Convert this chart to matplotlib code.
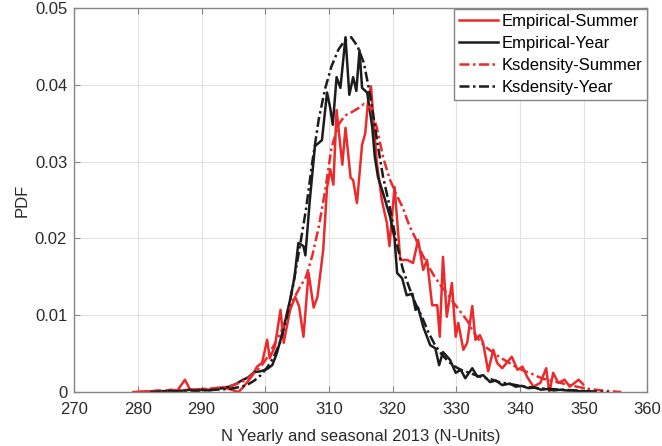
import matplotlib
matplotlib.use('Agg')
import matplotlib.pyplot as plt

plt.rcParams['font.family'] = ['Liberation Sans', 'DejaVu Sans']

# empirical pdf, summer
emp_summer_x = [280.1, 281.1, 282.1, 283.1, 284.2, 285.2, 286.2, 287.4, 288.2, 289.2, 290.2, 291.2,
                292.2, 293.3, 294.3, 295.8, 296.5, 297.2, 298.0, 298.7, 299.5, 300.3, 300.7, 301.5,
                302.4, 302.9, 303.9, 304.7, 305.3, 306.0, 306.8, 307.6, 308.2, 309.1, 309.7, 310.2,
                310.7, 311.2, 312.1, 312.6, 313.4, 313.8, 314.4, 315.2, 315.7, 316.2, 316.6, 317.5,
                318.3, 319.1, 319.5, 320.3, 321.2, 322.3, 323.2, 324.0, 324.8, 325.4, 326.2, 327.0,
                327.4, 327.9, 328.5, 329.3, 329.9, 330.3, 331.1, 331.7, 332.5, 333.0, 333.7, 334.2,
                335.0, 335.8, 336.4, 337.2, 337.6, 338.7, 339.6, 340.4, 341.1, 342.1, 343.2, 344.1,
                344.6, 345.2, 346.0, 347.0, 347.8, 349.2, 349.9]
emp_summer_y = [0.0000, 0.0001, 0.0001, 0.0002, 0.0001, 0.0003, 0.0002, 0.0016, 0.0003, 0.0002,
                0.0004, 0.0003, 0.0005, 0.0006, 0.0004, 0.0000, 0.0006, 0.0013, 0.0022, 0.0033,
                0.0038, 0.0068, 0.0044, 0.0059, 0.0107, 0.0064, 0.0107, 0.0124, 0.0112, 0.0072,
                0.0155, 0.0110, 0.0124, 0.0185, 0.0266, 0.0290, 0.0270, 0.0367, 0.0296, 0.0344,
                0.0279, 0.0276, 0.0246, 0.0322, 0.0337, 0.0384, 0.0398, 0.0300, 0.0250, 0.0220,
                0.0190, 0.0267, 0.0172, 0.0172, 0.0168, 0.0198, 0.0159, 0.0172, 0.0113, 0.0113,
                0.0072, 0.0176, 0.0098, 0.0142, 0.0072, 0.0090, 0.0055, 0.0064, 0.0112, 0.0068,
                0.0074, 0.0064, 0.0027, 0.0055, 0.0038, 0.0031, 0.0035, 0.0046, 0.0029, 0.0033,
                0.0020, 0.0007, 0.0012, 0.0031, -0.0001, 0.0025, 0.0012, 0.0016, 0.0007, 0.0016,
                0.0010]

# empirical pdf, whole year
emp_year_x = [282.1, 283.1, 284.2, 285.2, 286.2, 287.2, 288.2, 289.2, 290.2, 291.2, 292.2, 293.3,
              294.3, 295.3, 296.3, 297.3, 298.3, 299.3, 300.3, 301.1, 301.8, 302.4, 303.2, 303.9,
              304.6, 305.2, 306.0, 306.3, 307.0, 307.8, 308.9, 309.7, 310.2, 310.6, 311.2, 311.8,
              312.6, 313.2, 313.8, 314.3, 314.8, 315.2, 316.0, 316.8, 317.2, 317.7, 318.5, 319.6,
              320.3, 320.7, 321.5, 322.2, 323.1, 323.6, 324.0, 324.8, 325.9, 326.7, 327.3, 327.9,
              329.0, 329.9, 330.7, 331.4, 332.5, 333.3, 334.2, 335.3, 336.2, 337.2, 338.4, 339.3,
              340.3, 341.3, 342.3, 343.3, 344.3, 345.3, 346.3, 347.3, 348.3, 349.4, 350.9]
emp_year_y = [0.0000, 0.0001, 0.0001, 0.0002, 0.0001, 0.0002, 0.0003, 0.0002, 0.0003, 0.0002,
              0.0004, 0.0005, 0.0007, 0.0010, 0.0015, 0.0019, 0.0026, 0.0027, 0.0030, 0.0035,
              0.0050, 0.0068, 0.0095, 0.0120, 0.0150, 0.0194, 0.0190, 0.0178, 0.0250, 0.0320,
              0.0328, 0.0390, 0.0370, 0.0348, 0.0410, 0.0396, 0.0462, 0.0387, 0.0410, 0.0392,
              0.0445, 0.0396, 0.0390, 0.0345, 0.0306, 0.0280, 0.0259, 0.0228, 0.0200, 0.0155,
              0.0148, 0.0126, 0.0128, 0.0107, 0.0110, 0.0085, 0.0061, 0.0057, 0.0035, 0.0052,
              0.0042, 0.0025, 0.0029, 0.0018, 0.0031, 0.0020, 0.0022, 0.0013, 0.0015, 0.0009,
              0.0011, 0.0007, 0.0008, 0.0005, 0.0006, 0.0003, 0.0004, 0.0002, 0.0003, 0.0002,
              0.0002, 0.0001, 0.0001]

# kernel density estimates
ks_summer_x = [279.1, 282.1, 285.2, 288.2, 290.2, 292.2, 294.3, 295.3, 296.3, 297.3, 298.3, 299.3,
               300.3, 301.3, 302.4, 303.4, 304.4, 305.4, 306.4, 307.4, 308.4, 309.4, 310.4, 311.5,
               312.5, 313.5, 314.5, 315.5, 316.5, 317.5, 318.5, 319.5, 320.6, 321.6, 322.6, 323.6,
               324.6, 325.6, 326.6, 327.6, 328.6, 329.6, 330.7, 331.7, 332.7, 333.7, 334.7, 335.7,
               336.7, 337.7, 338.7, 339.7, 340.8, 341.8, 342.8, 343.8, 344.8, 345.8, 346.8, 347.8,
               348.9, 350.9, 352.9, 355.9]
ks_summer_y = [0.0000, 0.0001, 0.0002, 0.0003, 0.0004, 0.0005, 0.0007, 0.0010, 0.0013, 0.0018,
               0.0025, 0.0033, 0.0045, 0.0060, 0.0077, 0.0098, 0.0120, 0.0136, 0.0150, 0.0178,
               0.0215, 0.0262, 0.0318, 0.0348, 0.0360, 0.0364, 0.0369, 0.0375, 0.0370, 0.0345,
               0.0306, 0.0278, 0.0257, 0.0240, 0.0217, 0.0200, 0.0180, 0.0164, 0.0150, 0.0138,
               0.0128, 0.0116, 0.0104, 0.0093, 0.0078, 0.0066, 0.0058, 0.0052, 0.0046, 0.0041,
               0.0036, 0.0031, 0.0027, 0.0024, 0.0020, 0.0017, 0.0015, 0.0013, 0.0011, 0.0009,
               0.0007, 0.0004, 0.0002, 0.0000]

ks_year_x = [282.1, 284.2, 286.2, 288.2, 290.2, 292.2, 294.3, 296.3, 297.3, 298.3, 299.3, 300.3,
             301.3, 302.4, 303.4, 304.4, 305.4, 306.4, 307.4, 308.4, 309.4, 310.4, 311.5, 312.5,
             313.5, 314.5, 315.5, 316.5, 317.5, 318.5, 319.5, 320.6, 321.6, 322.6, 323.6, 324.6,
             325.6, 326.6, 327.6, 328.6, 329.6, 330.7, 331.7, 332.7, 333.7, 334.7, 335.7, 336.7,
             338.7, 340.8, 342.8, 344.8, 346.8, 348.9, 350.9, 353.9]
ks_year_y = [0.0000, 0.0001, 0.0001, 0.0002, 0.0002, 0.0003, 0.0004, 0.0007, 0.0010, 0.0015,
             0.0022, 0.0032, 0.0045, 0.0066, 0.0098, 0.0140, 0.0188, 0.0238, 0.0300, 0.0355,
             0.0395, 0.0424, 0.0446, 0.0458, 0.0462, 0.0450, 0.0428, 0.0385, 0.0330, 0.0280,
             0.0243, 0.0195, 0.0160, 0.0136, 0.0115, 0.0098, 0.0078, 0.0062, 0.0050, 0.0041,
             0.0034, 0.0029, 0.0026, 0.0023, 0.0020, 0.0018, 0.0016, 0.0013, 0.0010, 0.0007,
             0.0005, 0.0004, 0.0003, 0.0002, 0.0001, 0.0000]

red = '#ec2a2c'
blk = '#1c1c1c'
dashdot = (0, (4, 1.4, 1, 1.4))

fig = plt.figure(figsize=(6.62, 4.46), dpi=100)
ax = fig.add_axes([0.112, 0.121, 0.866, 0.861])

ax.plot(emp_summer_x, emp_summer_y, color=red, lw=1.8, label='Empirical-Summer')
ax.plot(emp_year_x, emp_year_y, color=blk, lw=1.8, label='Empirical-Year')
ax.plot(ks_summer_x, ks_summer_y, color=red, lw=1.8, ls=dashdot, label='Ksdensity-Summer')
ax.plot(ks_year_x, ks_year_y, color=blk, lw=1.8, ls=dashdot, label='Ksdensity-Year')

ax.set_xlim(270, 360)
ax.set_ylim(0, 0.05)
ax.set_xticks(range(270, 361, 10))
ax.set_yticks([0, 0.01, 0.02, 0.03, 0.04, 0.05])
ax.set_yticklabels(['0', '0.01', '0.02', '0.03', '0.04', '0.05'])
ax.grid(True, color='#e2e2e2', lw=0.8)
ax.set_axisbelow(True)

for s in ax.spines.values():
    s.set_color('#858585')
    s.set_linewidth(1.0)
ax.tick_params(direction='in', length=4, width=0.8, color='#858585',
               labelsize=12, labelcolor='#2a2a2a', top=True, right=True)
ax.tick_params(axis='x', pad=7)
ax.tick_params(axis='y', pad=5)

ax.set_xlabel('N Yearly and seasonal 2013 (N-Units)', fontsize=12, color='#2a2a2a', labelpad=9)
ax.set_ylabel('PDF', fontsize=12, color='#2a2a2a', labelpad=4)

leg = ax.legend(loc='upper right', bbox_to_anchor=(1.0, 0.998), borderaxespad=0,
                fontsize=12, frameon=True, fancybox=False, framealpha=1,
                handlelength=2.3, handletextpad=0.25, labelspacing=0.42, borderpad=0.3)
leg.get_frame().set_edgecolor('#858585')
leg.get_frame().set_linewidth(1.0)

fig.savefig('out.png', dpi=100)
